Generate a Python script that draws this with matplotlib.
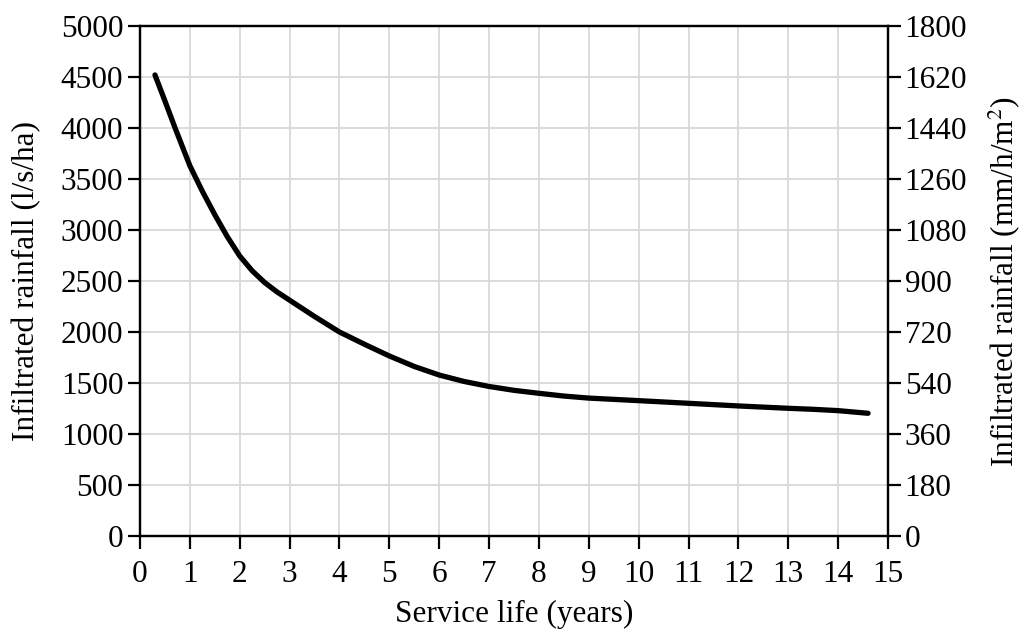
import matplotlib
matplotlib.use("Agg")
import matplotlib.pyplot as plt

plt.rcParams['font.family'] = ['Liberation Serif', 'DejaVu Serif']
plt.rcParams['mathtext.fontset'] = 'stix'

# Service life (years) and infiltrated rainfall (l/s/ha)
years = [0.3, 0.5, 0.7, 1.0, 1.25, 1.5, 1.75, 2.0, 2.25, 2.5, 2.75, 3.0, 3.5,
         4.0, 4.5, 5.0, 5.5, 6.0, 6.5, 7.0, 7.5, 8.0, 8.5, 9.0, 10.0, 11.0,
         12.0, 13.0, 13.5, 14.0, 14.6]
rainfall = [4520, 4265, 4005, 3630, 3380, 3150, 2935, 2745, 2600, 2485, 2392,
            2312, 2152, 2000, 1880, 1765, 1662, 1578, 1515, 1466, 1428, 1399,
            1372, 1352, 1327, 1301, 1275, 1252, 1242, 1229, 1203]

x_ticks = list(range(0, 16))
left_ticks = list(range(0, 5001, 500))
right_ticks = list(range(0, 1801, 180))

FS = 22.5

fig = plt.figure(figsize=(10.27, 6.31), dpi=100)
ax = fig.add_axes([140/1027, 1 - 536/631, (888-140)/1027, (536-26)/631])

ax.plot(years, rainfall, color='black', lw=3.8, solid_capstyle='round',
        solid_joinstyle='round')

ax.set_xlim(0, 15)
ax.set_ylim(0, 5000)
ax.set_xticks(x_ticks)
ax.set_yticks(left_ticks)
ax.grid(True, color='#d9d9d9', lw=1.3)
ax.set_axisbelow(True)
for s in ax.spines.values():
    s.set_linewidth(1.6)
ax.tick_params(axis='both', direction='out', length=9, width=1.6, labelsize=FS, pad=3)
ax.tick_params(axis='x', pad=8)
ax.set_xlabel('Service life (years)', fontsize=FS, labelpad=8)
ax.set_ylabel('Infiltrated rainfall (l/s/ha)', fontsize=FS, labelpad=14)

ax2 = ax.twinx()
ax2.set_ylim(0, 1800)
ax2.set_yticks(right_ticks)
for s in ax2.spines.values():
    s.set_linewidth(1.6)
ax2.tick_params(axis='y', direction='out', length=9, width=1.6, labelsize=FS, pad=3)
ax2.set_ylabel('Infiltrated rainfall (mm/h/m$^2$)', fontsize=FS, labelpad=14)

fig.savefig('out.png', dpi=100)
